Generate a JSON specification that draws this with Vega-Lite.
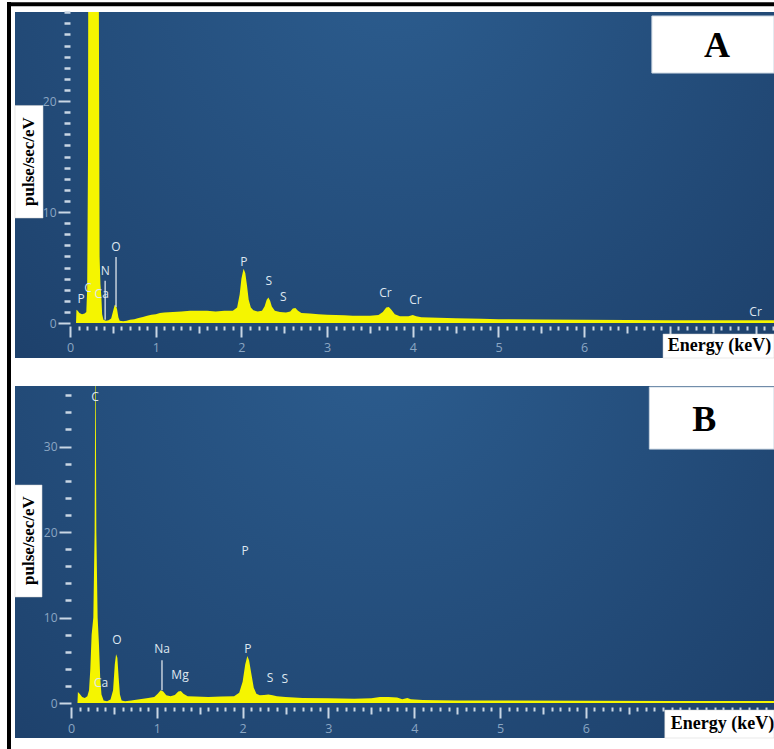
{
  "$schema": "https://vega.github.io/schema/vega-lite/v6.json",
  "background": "white",
  "padding": {"left": 5, "top": 0, "right": 0, "bottom": 0},
  "datasets": {
    "specA": [
      {"keV":0.07,"cps":0},{"keV":0.075,"cps":1.2},{"keV":0.09,"cps":1.1},{"keV":0.11,"cps":0.9},{"keV":0.14,"cps":0.8},{"keV":0.17,"cps":0.85},{"keV":0.19,"cps":1.0},{"keV":0.2,"cps":3},{"keV":0.21,"cps":15},{"keV":0.215,"cps":45},{"keV":0.33,"cps":45},{"keV":0.34,"cps":20},{"keV":0.345,"cps":6},{"keV":0.355,"cps":3.5},{"keV":0.365,"cps":2.5},{"keV":0.375,"cps":0.8},{"keV":0.39,"cps":0.3},{"keV":0.42,"cps":0.2},{"keV":0.45,"cps":0.25},{"keV":0.48,"cps":0.4},{"keV":0.5,"cps":1.0},{"keV":0.52,"cps":1.6},{"keV":0.535,"cps":1.65},{"keV":0.55,"cps":1.2},{"keV":0.565,"cps":0.5},{"keV":0.58,"cps":0.2},{"keV":0.62,"cps":0.15},{"keV":0.66,"cps":0.2},{"keV":0.7,"cps":0.3},{"keV":0.75,"cps":0.35},{"keV":0.8,"cps":0.45},{"keV":0.85,"cps":0.55},{"keV":0.9,"cps":0.65},{"keV":0.95,"cps":0.75},{"keV":1.0,"cps":0.8},{"keV":1.05,"cps":0.9},{"keV":1.1,"cps":0.95},{"keV":1.2,"cps":1.0},{"keV":1.3,"cps":1.05},{"keV":1.4,"cps":1.1},{"keV":1.5,"cps":1.1},{"keV":1.6,"cps":1.1},{"keV":1.7,"cps":1.05},{"keV":1.8,"cps":1.1},{"keV":1.9,"cps":1.1},{"keV":1.95,"cps":1.4},{"keV":1.98,"cps":2.6},{"keV":2.0,"cps":4.0},{"keV":2.025,"cps":4.9},{"keV":2.045,"cps":4.5},{"keV":2.065,"cps":3.4},{"keV":2.085,"cps":2.1},{"keV":2.11,"cps":1.4},{"keV":2.14,"cps":1.15},{"keV":2.19,"cps":1.05},{"keV":2.24,"cps":1.1},{"keV":2.27,"cps":1.5},{"keV":2.295,"cps":2.1},{"keV":2.315,"cps":2.3},{"keV":2.335,"cps":2.0},{"keV":2.355,"cps":1.5},{"keV":2.39,"cps":1.1},{"keV":2.45,"cps":1.0},{"keV":2.52,"cps":0.95},{"keV":2.57,"cps":1.05},{"keV":2.6,"cps":1.3},{"keV":2.63,"cps":1.35},{"keV":2.66,"cps":1.1},{"keV":2.7,"cps":0.9},{"keV":2.8,"cps":0.85},{"keV":2.9,"cps":0.8},{"keV":3.0,"cps":0.75},{"keV":3.1,"cps":0.72},{"keV":3.2,"cps":0.7},{"keV":3.3,"cps":0.66},{"keV":3.4,"cps":0.65},{"keV":3.5,"cps":0.65},{"keV":3.6,"cps":0.72},{"keV":3.65,"cps":1.0},{"keV":3.69,"cps":1.4},{"keV":3.72,"cps":1.45},{"keV":3.75,"cps":1.2},{"keV":3.79,"cps":0.8},{"keV":3.85,"cps":0.6},{"keV":3.95,"cps":0.6},{"keV":4.0,"cps":0.72},{"keV":4.04,"cps":0.6},{"keV":4.1,"cps":0.52},{"keV":4.3,"cps":0.47},{"keV":4.5,"cps":0.42},{"keV":4.8,"cps":0.38},{"keV":5.0,"cps":0.35},{"keV":5.5,"cps":0.32},{"keV":6.0,"cps":0.3},{"keV":6.5,"cps":0.28},{"keV":7.0,"cps":0.26},{"keV":7.5,"cps":0.25},{"keV":8.0,"cps":0.24},{"keV":8.3,"cps":0.24}
    ],
    "specB": [
      {"keV":0.075,"cps":0},{"keV":0.08,"cps":1.3},{"keV":0.1,"cps":1.1},{"keV":0.13,"cps":0.7},{"keV":0.16,"cps":0.6},{"keV":0.19,"cps":0.8},{"keV":0.21,"cps":1.5},{"keV":0.225,"cps":4},{"keV":0.24,"cps":8},{"keV":0.26,"cps":10},{"keV":0.275,"cps":20},{"keV":0.285,"cps":45},{"keV":0.295,"cps":20},{"keV":0.31,"cps":10},{"keV":0.325,"cps":7},{"keV":0.34,"cps":3},{"keV":0.355,"cps":1},{"keV":0.38,"cps":0.3},{"keV":0.42,"cps":0.2},{"keV":0.46,"cps":0.4},{"keV":0.49,"cps":1.5},{"keV":0.51,"cps":4.5},{"keV":0.525,"cps":5.7},{"keV":0.54,"cps":5.3},{"keV":0.555,"cps":3},{"keV":0.57,"cps":1},{"keV":0.59,"cps":0.3},{"keV":0.63,"cps":0.2},{"keV":0.7,"cps":0.3},{"keV":0.8,"cps":0.45},{"keV":0.9,"cps":0.6},{"keV":0.97,"cps":0.7},{"keV":1.01,"cps":1.1},{"keV":1.045,"cps":1.5},{"keV":1.075,"cps":1.35},{"keV":1.11,"cps":0.9},{"keV":1.16,"cps":0.8},{"keV":1.21,"cps":0.95},{"keV":1.25,"cps":1.35},{"keV":1.28,"cps":1.4},{"keV":1.31,"cps":1.1},{"keV":1.36,"cps":0.8},{"keV":1.45,"cps":0.75},{"keV":1.6,"cps":0.7},{"keV":1.75,"cps":0.75},{"keV":1.9,"cps":0.8},{"keV":1.96,"cps":1.2},{"keV":2.0,"cps":2.5},{"keV":2.03,"cps":4.5},{"keV":2.055,"cps":5.5},{"keV":2.075,"cps":5.0},{"keV":2.1,"cps":3.5},{"keV":2.13,"cps":1.8},{"keV":2.16,"cps":1.1},{"keV":2.2,"cps":0.9},{"keV":2.25,"cps":0.95},{"keV":2.3,"cps":1.0},{"keV":2.35,"cps":0.9},{"keV":2.4,"cps":0.8},{"keV":2.5,"cps":0.7},{"keV":2.7,"cps":0.6},{"keV":3.0,"cps":0.55},{"keV":3.3,"cps":0.5},{"keV":3.5,"cps":0.55},{"keV":3.6,"cps":0.7},{"keV":3.7,"cps":0.7},{"keV":3.8,"cps":0.65},{"keV":3.86,"cps":0.45},{"keV":3.92,"cps":0.6},{"keV":3.96,"cps":0.45},{"keV":4.1,"cps":0.35},{"keV":4.5,"cps":0.3},{"keV":5.0,"cps":0.3},{"keV":6.0,"cps":0.27},{"keV":7.0,"cps":0.25},{"keV":8.3,"cps":0.25}
    ],
    "labelsA": [
      {"keV":0.128,"cps":2.2,"label":"P"},{"keV":0.21,"cps":3.2,"label":"C"},{"keV":0.37,"cps":2.6,"label":"Ca"},{"keV":0.41,"cps":4.7,"label":"N"},{"keV":0.537,"cps":6.85,"label":"O"},{"keV":2.03,"cps":5.5,"label":"P"},{"keV":2.32,"cps":3.8,"label":"S"},{"keV":2.49,"cps":2.35,"label":"S"},{"keV":3.68,"cps":2.7,"label":"Cr"},{"keV":4.03,"cps":2.05,"label":"Cr"},{"keV":8.0,"cps":1.0,"label":"Cr"}
    ],
    "linesA": [
      {"keV":0.41,"lo":0.3,"hi":3.8},{"keV":0.537,"lo":1.45,"hi":5.95}
    ],
    "labelsB": [
      {"keV":0.28,"cps":35.8,"label":"C"},{"keV":0.35,"cps":2.3,"label":"Ca"},{"keV":0.536,"cps":7.4,"label":"O"},{"keV":1.06,"cps":6.3,"label":"Na"},{"keV":1.27,"cps":3.3,"label":"Mg"},{"keV":2.06,"cps":6.3,"label":"P"},{"keV":2.03,"cps":17.8,"label":"P"},{"keV":2.32,"cps":2.9,"label":"S"},{"keV":2.49,"cps":2.8,"label":"S"}
    ],
    "linesB": [
      {"keV":1.06,"lo":1.5,"hi":5.0}
    ]
  },
  "vconcat": [
    {
      "width": 759,
      "height": 346,
      "view": {"stroke": null, "fill": {"gradient": "radial", "x1": 0.5, "y1": 0.2, "x2": 0.5, "y2": 0.2, "r1": 0, "r2": 0.8, "stops": [{"offset": 0, "color": "#2c5d8f"}, {"offset": 1, "color": "#1c3e68"}]}},
      "resolve": {"axis": {"x": "independent", "y": "independent"}},
      "layer": [
        {
          "data": {"name": "specA"},
          "mark": {"type": "area", "color": "#f5f500", "clip": true, "interpolate": "linear"},
          "encoding": {
            "x": {"field": "keV", "type": "quantitative", "scale": {"domain": [-0.642, 8.215], "nice": false, "zero": false},
              "axis": {"orient": "bottom", "offset": -32, "domain": false, "grid": false, "title": null,
                "values": [0,1,2,3,4,5,6,7,8],
                "labelExpr": "datum.value <= 6 ? datum.label : ''",
                "tickColor": "#c9d6e4", "tickSize": 11, "tickWidth": 2,
                "labelColor": "#8ba6c3", "labelFont": "Open Sans", "labelFontSize": 12.5, "labelPadding": 4, "labelOverlap": false, "labelFlush": false, "labelBound": false}},
            "y": {"field": "cps", "type": "quantitative", "scale": {"domain": [-3.15, 28.02], "nice": false, "zero": false},
              "axis": {"orient": "left", "offset": -55, "domain": false, "grid": false, "title": null,
                "values": [0,10,20],
                "tickColor": "#c9d6e4", "tickSize": 12, "tickWidth": 2,
                "labelColor": "#8ba6c3", "labelFont": "Open Sans", "labelFontSize": 12, "labelPadding": 2, "labelOverlap": false, "labelBound": false}},
            "y2": {"datum": 0}
          }
        },
        {
          "data": {"name": "linesA"},
          "mark": {"type": "rule", "color": "#c5d0dc", "strokeWidth": 1.5},
          "encoding": {
            "x": {"field": "keV", "type": "quantitative", "scale": {"domain": [-0.642, 8.215], "nice": false, "zero": false},
              "axis": {"orient": "bottom", "offset": -32, "domain": false, "grid": false, "title": null, "labels": false,
                "values": [0.5,1.5,2.5,3.5,4.5,5.5,6.5,7.5], "tickColor": "#c9d6e4", "tickSize": 7, "tickWidth": 2}},
            "y": {"field": "lo", "type": "quantitative", "scale": {"domain": [-3.15, 28.02], "nice": false, "zero": false},
              "axis": {"orient": "left", "offset": -55, "domain": false, "grid": false, "title": null, "labels": false,
                "values": [1,2,3,4,5,6,7,8,9,11,12,13,14,15,16,17,18,19,21,22,23,24,25,26,27,28], "tickColor": "#c9d6e4", "tickSize": 6, "tickWidth": 2.5}},
            "y2": {"field": "hi"}
          }
        },
        {
          "data": {"name": "labelsA"},
          "mark": {"type": "text", "color": "#dfe7f0", "font": "Open Sans", "fontSize": 12, "baseline": "middle", "align": "center"},
          "encoding": {
            "x": {"field": "keV", "type": "quantitative", "scale": {"domain": [-0.642, 8.215], "nice": false, "zero": false},
              "axis": {"orient": "bottom", "offset": -32, "domain": false, "grid": false, "title": null, "labels": false,
                "values": [0.1,0.2,0.3,0.4,0.6,0.7,0.8,0.9,1.1,1.2,1.3,1.4,1.6,1.7,1.8,1.9,2.1,2.2,2.3,2.4,2.6,2.7,2.8,2.9,3.1,3.2,3.3,3.4,3.6,3.7,3.8,3.9,4.1,4.2,4.3,4.4,4.6,4.7,4.8,4.9,5.1,5.2,5.3,5.4,5.6,5.7,5.8,5.9,6.1,6.2,6.3,6.4,6.6,6.7,6.8,6.9,7.1,7.2,7.3,7.4,7.6,7.7,7.8,7.9,8.1,8.2],
                "tickColor": "#c9d6e4", "tickSize": 4, "tickWidth": 2}},
            "y": {"field": "cps", "type": "quantitative", "scale": {"domain": [-3.15, 28.02], "nice": false, "zero": false}, "axis": null},
            "text": {"field": "label"}
          }
        },
        {
          "data": {"values": [{}]},
          "mark": {"type": "rule", "color": "black", "strokeWidth": 4, "strokeCap": "butt"},
          "encoding": {
            "x": {"datum": -0.712, "type": "quantitative", "scale": {"domain": [-0.642, 8.215], "nice": false, "zero": false}, "axis": null},
            "y": {"datum": 28.92, "type": "quantitative", "scale": {"domain": [-3.15, 28.02], "nice": false, "zero": false}, "axis": null},
            "y2": {"datum": -38.38}
          }
        },
        {
          "data": {"values": [{}]},
          "mark": {"type": "rule", "color": "black", "strokeWidth": 4, "strokeCap": "butt"},
          "encoding": {
            "x": {"datum": -0.735, "type": "quantitative", "scale": {"domain": [-0.642, 8.215], "nice": false, "zero": false}, "axis": null},
            "x2": {"datum": 8.215},
            "y": {"datum": 28.72, "type": "quantitative", "scale": {"domain": [-3.15, 28.02], "nice": false, "zero": false}, "axis": null}
          }
        },
        {
          "data": {"values": [{}]},
          "mark": {"type": "rect", "fill": "white", "stroke": "#d0d0d0", "strokeWidth": 0.5},
          "encoding": {
            "x": {"datum": -0.642, "type": "quantitative", "scale": {"domain": [-0.642, 8.215], "nice": false, "zero": false}, "axis": null},
            "x2": {"datum": -0.315},
            "y": {"datum": 19.6, "type": "quantitative", "scale": {"domain": [-3.15, 28.02], "nice": false, "zero": false}, "axis": null},
            "y2": {"datum": 9.46}
          }
        },
        {
          "data": {"values": [{}]},
          "mark": {"type": "text", "text": "pulse/sec/eV", "angle": 270, "font": "Liberation Serif", "fontWeight": "bold", "fontSize": 17, "color": "black", "baseline": "middle", "align": "center"},
          "encoding": {
            "x": {"datum": -0.478, "type": "quantitative", "scale": {"domain": [-0.642, 8.215], "nice": false, "zero": false}, "axis": null},
            "y": {"datum": 14.55, "type": "quantitative", "scale": {"domain": [-3.15, 28.02], "nice": false, "zero": false}, "axis": null}
          }
        },
        {
          "data": {"values": [{}]},
          "mark": {"type": "rect", "fill": "white", "stroke": "#d0d0d0", "strokeWidth": 0.5},
          "encoding": {
            "x": {"datum": 6.92, "type": "quantitative", "scale": {"domain": [-0.642, 8.215], "nice": false, "zero": false}, "axis": null},
            "x2": {"datum": 8.215},
            "y": {"datum": -0.99, "type": "quantitative", "scale": {"domain": [-3.15, 28.02], "nice": false, "zero": false}, "axis": null},
            "y2": {"datum": -3.15}
          }
        },
        {
          "data": {"values": [{}]},
          "mark": {"type": "text", "text": "Energy (keV)", "font": "Liberation Serif", "fontWeight": "bold", "fontSize": 18, "color": "black", "baseline": "middle", "align": "left", "clip": true},
          "encoding": {
            "x": {"datum": 6.975, "type": "quantitative", "scale": {"domain": [-0.642, 8.215], "nice": false, "zero": false}, "axis": null},
            "y": {"datum": -2.07, "type": "quantitative", "scale": {"domain": [-3.15, 28.02], "nice": false, "zero": false}, "axis": null}
          }
        },
        {
          "data": {"values": [{}]},
          "mark": {"type": "rect", "fill": "white", "stroke": "#c8d4e0", "strokeWidth": 1},
          "encoding": {
            "x": {"datum": 6.79, "type": "quantitative", "scale": {"domain": [-0.642, 8.215], "nice": false, "zero": false}, "axis": null},
            "x2": {"datum": 8.215},
            "y": {"datum": 27.66, "type": "quantitative", "scale": {"domain": [-3.15, 28.02], "nice": false, "zero": false}, "axis": null},
            "y2": {"datum": 22.52}
          }
        },
        {
          "data": {"values": [{}]},
          "mark": {"type": "text", "text": "A", "font": "Liberation Serif", "fontWeight": "bold", "fontSize": 36, "color": "black", "baseline": "middle", "align": "center"},
          "encoding": {
            "x": {"datum": 7.55, "type": "quantitative", "scale": {"domain": [-0.642, 8.215], "nice": false, "zero": false}, "axis": null},
            "y": {"datum": 25.0, "type": "quantitative", "scale": {"domain": [-3.15, 28.02], "nice": false, "zero": false}, "axis": null}
          }
        }
      ]
    },
    {
      "width": 759,
      "height": 352,
      "view": {"stroke": null, "fill": {"gradient": "radial", "x1": 0.48, "y1": 0.2, "x2": 0.48, "y2": 0.2, "r1": 0, "r2": 0.8, "stops": [{"offset": 0, "color": "#2c5d8f"}, {"offset": 1, "color": "#1c3e68"}]}},
      "resolve": {"axis": {"x": "independent", "y": "independent"}},
      "layer": [
        {
          "data": {"name": "specB"},
          "mark": {"type": "area", "color": "#f5f500", "clip": true, "interpolate": "linear"},
          "encoding": {
            "x": {"field": "keV", "type": "quantitative", "scale": {"domain": [-0.653, 8.193], "nice": false, "zero": false},
              "axis": {"orient": "bottom", "offset": -31, "domain": false, "grid": false, "title": null,
                "values": [0,1,2,3,4,5,6,7,8],
                "labelExpr": "datum.value <= 6 ? datum.label : ''",
                "tickColor": "#c9d6e4", "tickSize": 11, "tickWidth": 2,
                "labelColor": "#8ba6c3", "labelFont": "Open Sans", "labelFontSize": 12.5, "labelPadding": 4, "labelOverlap": false, "labelFlush": false, "labelBound": false}},
            "y": {"field": "cps", "type": "quantitative", "scale": {"domain": [-4.09, 37.08], "nice": false, "zero": false},
              "axis": {"orient": "left", "offset": -56, "domain": false, "grid": false, "title": null,
                "values": [0,10,20,30],
                "tickColor": "#c9d6e4", "tickSize": 12, "tickWidth": 2,
                "labelColor": "#8ba6c3", "labelFont": "Open Sans", "labelFontSize": 12, "labelPadding": 2, "labelOverlap": false, "labelBound": false}},
            "y2": {"datum": 0}
          }
        },
        {
          "data": {"name": "linesB"},
          "mark": {"type": "rule", "color": "#c5d0dc", "strokeWidth": 1.5},
          "encoding": {
            "x": {"field": "keV", "type": "quantitative", "scale": {"domain": [-0.653, 8.193], "nice": false, "zero": false},
              "axis": {"orient": "bottom", "offset": -31, "domain": false, "grid": false, "title": null, "labels": false,
                "values": [0.5,1.5,2.5,3.5,4.5,5.5,6.5,7.5], "tickColor": "#c9d6e4", "tickSize": 7, "tickWidth": 2}},
            "y": {"field": "lo", "type": "quantitative", "scale": {"domain": [-4.09, 37.08], "nice": false, "zero": false},
              "axis": {"orient": "left", "offset": -56, "domain": false, "grid": false, "title": null, "labels": false,
                "values": [2,4,6,8,12,14,16,18,22,24,26,28,32,34,36], "tickColor": "#c9d6e4", "tickSize": 6, "tickWidth": 2.5}},
            "y2": {"field": "hi"}
          }
        },
        {
          "data": {"name": "labelsB"},
          "mark": {"type": "text", "color": "#dfe7f0", "font": "Open Sans", "fontSize": 12, "baseline": "middle", "align": "center"},
          "encoding": {
            "x": {"field": "keV", "type": "quantitative", "scale": {"domain": [-0.653, 8.193], "nice": false, "zero": false},
              "axis": {"orient": "bottom", "offset": -31, "domain": false, "grid": false, "title": null, "labels": false,
                "values": [0.1,0.2,0.3,0.4,0.6,0.7,0.8,0.9,1.1,1.2,1.3,1.4,1.6,1.7,1.8,1.9,2.1,2.2,2.3,2.4,2.6,2.7,2.8,2.9,3.1,3.2,3.3,3.4,3.6,3.7,3.8,3.9,4.1,4.2,4.3,4.4,4.6,4.7,4.8,4.9,5.1,5.2,5.3,5.4,5.6,5.7,5.8,5.9,6.1,6.2,6.3,6.4,6.6,6.7,6.8,6.9,7.1,7.2,7.3,7.4,7.6,7.7,7.8,7.9,8.1],
                "tickColor": "#c9d6e4", "tickSize": 4, "tickWidth": 2}},
            "y": {"field": "cps", "type": "quantitative", "scale": {"domain": [-4.09, 37.08], "nice": false, "zero": false}, "axis": null},
            "text": {"field": "label"}
          }
        },
        {
          "data": {"values": [{}]},
          "mark": {"type": "rect", "fill": "white", "stroke": "#d0d0d0", "strokeWidth": 0.5},
          "encoding": {
            "x": {"datum": -0.653, "type": "quantitative", "scale": {"domain": [-0.653, 8.193], "nice": false, "zero": false}, "axis": null},
            "x2": {"datum": -0.338},
            "y": {"datum": 25.5, "type": "quantitative", "scale": {"domain": [-4.09, 37.08], "nice": false, "zero": false}, "axis": null},
            "y2": {"datum": 12.4}
          }
        },
        {
          "data": {"values": [{}]},
          "mark": {"type": "text", "text": "pulse/sec/eV", "angle": 270, "font": "Liberation Serif", "fontWeight": "bold", "fontSize": 17, "color": "black", "baseline": "middle", "align": "center"},
          "encoding": {
            "x": {"datum": -0.495, "type": "quantitative", "scale": {"domain": [-0.653, 8.193], "nice": false, "zero": false}, "axis": null},
            "y": {"datum": 19.0, "type": "quantitative", "scale": {"domain": [-4.09, 37.08], "nice": false, "zero": false}, "axis": null}
          }
        },
        {
          "data": {"values": [{}]},
          "mark": {"type": "rect", "fill": "white", "stroke": "#d0d0d0", "strokeWidth": 0.5},
          "encoding": {
            "x": {"datum": 6.92, "type": "quantitative", "scale": {"domain": [-0.653, 8.193], "nice": false, "zero": false}, "axis": null},
            "x2": {"datum": 8.193},
            "y": {"datum": -0.82, "type": "quantitative", "scale": {"domain": [-4.09, 37.08], "nice": false, "zero": false}, "axis": null},
            "y2": {"datum": -4.09}
          }
        },
        {
          "data": {"values": [{}]},
          "mark": {"type": "text", "text": "Energy (keV)", "font": "Liberation Serif", "fontWeight": "bold", "fontSize": 18, "color": "black", "baseline": "middle", "align": "left", "clip": true},
          "encoding": {
            "x": {"datum": 6.99, "type": "quantitative", "scale": {"domain": [-0.653, 8.193], "nice": false, "zero": false}, "axis": null},
            "y": {"datum": -2.5, "type": "quantitative", "scale": {"domain": [-4.09, 37.08], "nice": false, "zero": false}, "axis": null}
          }
        },
        {
          "data": {"values": [{}]},
          "mark": {"type": "rect", "fill": "white", "stroke": "#c8d4e0", "strokeWidth": 1},
          "encoding": {
            "x": {"datum": 6.74, "type": "quantitative", "scale": {"domain": [-0.653, 8.193], "nice": false, "zero": false}, "axis": null},
            "x2": {"datum": 8.193},
            "y": {"datum": 36.96, "type": "quantitative", "scale": {"domain": [-4.09, 37.08], "nice": false, "zero": false}, "axis": null},
            "y2": {"datum": 29.7}
          }
        },
        {
          "data": {"values": [{}]},
          "mark": {"type": "text", "text": "B", "font": "Liberation Serif", "fontWeight": "bold", "fontSize": 36, "color": "black", "baseline": "middle", "align": "center"},
          "encoding": {
            "x": {"datum": 7.38, "type": "quantitative", "scale": {"domain": [-0.653, 8.193], "nice": false, "zero": false}, "axis": null},
            "y": {"datum": 33.1, "type": "quantitative", "scale": {"domain": [-4.09, 37.08], "nice": false, "zero": false}, "axis": null}
          }
        }
      ]
    }
  ],
  "spacing": 28,
  "bounds": "flush"
}
